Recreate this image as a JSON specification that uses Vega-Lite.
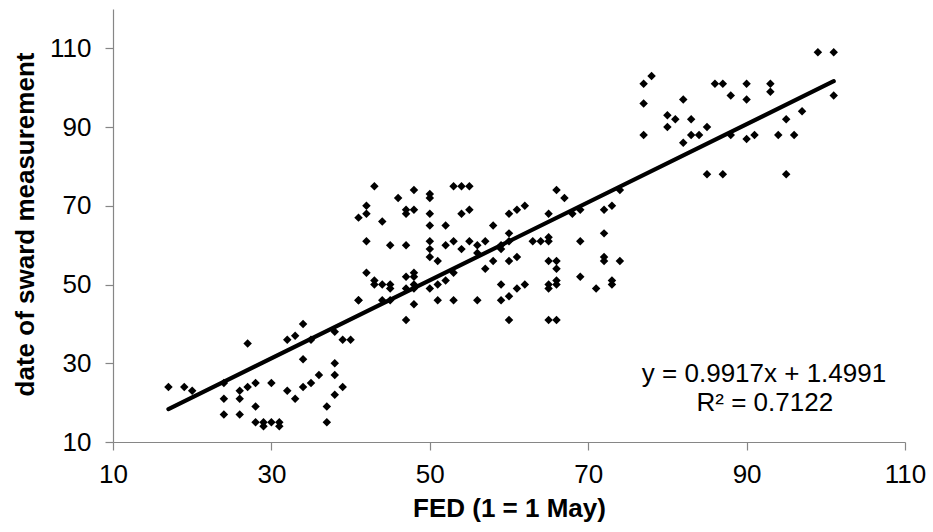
{
  "$schema": "https://vega.github.io/schema/vega-lite/v6.json",
  "width": 792,
  "height": 433,
  "autosize": {"type": "none"},
  "padding": {"left": 113, "top": 9, "right": 28, "bottom": 90},
  "background": "white",
  "config": {"view": {"stroke": null}, "font": "Liberation Sans"},
  "datasets": {
    "points": [
      {"FED": 17, "sward": 24}, {"FED": 19, "sward": 24}, {"FED": 20, "sward": 23},
      {"FED": 24, "sward": 25}, {"FED": 24, "sward": 21}, {"FED": 24, "sward": 17},
      {"FED": 26, "sward": 23}, {"FED": 26, "sward": 21}, {"FED": 26, "sward": 17},
      {"FED": 27, "sward": 35}, {"FED": 27, "sward": 24}, {"FED": 28, "sward": 25},
      {"FED": 28, "sward": 19}, {"FED": 28, "sward": 15}, {"FED": 29, "sward": 14},
      {"FED": 29, "sward": 15}, {"FED": 30, "sward": 25}, {"FED": 30, "sward": 15},
      {"FED": 31, "sward": 15}, {"FED": 31, "sward": 14}, {"FED": 32, "sward": 23},
      {"FED": 32, "sward": 36}, {"FED": 33, "sward": 37}, {"FED": 33, "sward": 21},
      {"FED": 34, "sward": 40}, {"FED": 34, "sward": 31}, {"FED": 34, "sward": 24},
      {"FED": 35, "sward": 36}, {"FED": 35, "sward": 25}, {"FED": 36, "sward": 27},
      {"FED": 37, "sward": 19}, {"FED": 37, "sward": 15}, {"FED": 38, "sward": 38},
      {"FED": 38, "sward": 30}, {"FED": 38, "sward": 27}, {"FED": 38, "sward": 22},
      {"FED": 39, "sward": 36}, {"FED": 39, "sward": 24}, {"FED": 40, "sward": 36},
      {"FED": 41, "sward": 46},
      {"FED": 42, "sward": 70}, {"FED": 42, "sward": 68}, {"FED": 41, "sward": 67},
      {"FED": 43, "sward": 75}, {"FED": 44, "sward": 66}, {"FED": 46, "sward": 72},
      {"FED": 48, "sward": 74}, {"FED": 47, "sward": 69}, {"FED": 47, "sward": 68},
      {"FED": 48, "sward": 69}, {"FED": 50, "sward": 73}, {"FED": 50, "sward": 72},
      {"FED": 50, "sward": 68}, {"FED": 50, "sward": 65}, {"FED": 52, "sward": 65},
      {"FED": 53, "sward": 75}, {"FED": 54, "sward": 75}, {"FED": 55, "sward": 75},
      {"FED": 54, "sward": 68}, {"FED": 55, "sward": 69}, {"FED": 42, "sward": 61},
      {"FED": 45, "sward": 60}, {"FED": 47, "sward": 60}, {"FED": 50, "sward": 61},
      {"FED": 50, "sward": 59}, {"FED": 50, "sward": 57}, {"FED": 51, "sward": 56},
      {"FED": 52, "sward": 60}, {"FED": 53, "sward": 61}, {"FED": 54, "sward": 59},
      {"FED": 55, "sward": 61}, {"FED": 56, "sward": 60}, {"FED": 56, "sward": 58},
      {"FED": 57, "sward": 61}, {"FED": 58, "sward": 65}, {"FED": 58, "sward": 56},
      {"FED": 57, "sward": 54}, {"FED": 59, "sward": 60}, {"FED": 59, "sward": 59},
      {"FED": 60, "sward": 63}, {"FED": 60, "sward": 61}, {"FED": 60, "sward": 56},
      {"FED": 61, "sward": 57}, {"FED": 60, "sward": 68}, {"FED": 61, "sward": 69},
      {"FED": 62, "sward": 70}, {"FED": 63, "sward": 61}, {"FED": 64, "sward": 61},
      {"FED": 42, "sward": 53}, {"FED": 43, "sward": 51}, {"FED": 43, "sward": 50},
      {"FED": 44, "sward": 50}, {"FED": 45, "sward": 50}, {"FED": 45, "sward": 49},
      {"FED": 47, "sward": 52}, {"FED": 48, "sward": 53}, {"FED": 48, "sward": 52},
      {"FED": 48, "sward": 50}, {"FED": 47, "sward": 49}, {"FED": 48, "sward": 49},
      {"FED": 50, "sward": 49}, {"FED": 51, "sward": 50}, {"FED": 52, "sward": 51},
      {"FED": 53, "sward": 53}, {"FED": 41, "sward": 46}, {"FED": 44, "sward": 46},
      {"FED": 45, "sward": 46}, {"FED": 48, "sward": 45}, {"FED": 51, "sward": 46},
      {"FED": 53, "sward": 46}, {"FED": 56, "sward": 46}, {"FED": 59, "sward": 50},
      {"FED": 59, "sward": 46}, {"FED": 60, "sward": 47}, {"FED": 61, "sward": 49},
      {"FED": 62, "sward": 50}, {"FED": 47, "sward": 41}, {"FED": 60, "sward": 41},
      {"FED": 66, "sward": 74}, {"FED": 67, "sward": 72}, {"FED": 65, "sward": 68},
      {"FED": 68, "sward": 68}, {"FED": 69, "sward": 69}, {"FED": 72, "sward": 69},
      {"FED": 73, "sward": 70}, {"FED": 74, "sward": 74}, {"FED": 65, "sward": 61},
      {"FED": 65, "sward": 62}, {"FED": 69, "sward": 61}, {"FED": 72, "sward": 63},
      {"FED": 65, "sward": 56}, {"FED": 66, "sward": 56}, {"FED": 66, "sward": 54},
      {"FED": 65, "sward": 50}, {"FED": 65, "sward": 49}, {"FED": 66, "sward": 51},
      {"FED": 66, "sward": 50}, {"FED": 69, "sward": 52}, {"FED": 71, "sward": 49},
      {"FED": 72, "sward": 57}, {"FED": 72, "sward": 56}, {"FED": 74, "sward": 56},
      {"FED": 73, "sward": 51}, {"FED": 73, "sward": 50}, {"FED": 65, "sward": 41},
      {"FED": 66, "sward": 41},
      {"FED": 77, "sward": 101}, {"FED": 78, "sward": 103}, {"FED": 77, "sward": 96},
      {"FED": 77, "sward": 88}, {"FED": 82, "sward": 97}, {"FED": 80, "sward": 93},
      {"FED": 81, "sward": 92}, {"FED": 80, "sward": 90}, {"FED": 83, "sward": 92},
      {"FED": 83, "sward": 88}, {"FED": 84, "sward": 88}, {"FED": 82, "sward": 86},
      {"FED": 85, "sward": 90}, {"FED": 86, "sward": 101}, {"FED": 87, "sward": 101},
      {"FED": 90, "sward": 101}, {"FED": 88, "sward": 98}, {"FED": 90, "sward": 97},
      {"FED": 88, "sward": 88}, {"FED": 90, "sward": 87}, {"FED": 85, "sward": 78},
      {"FED": 87, "sward": 78}, {"FED": 93, "sward": 101}, {"FED": 93, "sward": 99},
      {"FED": 91, "sward": 88}, {"FED": 94, "sward": 88}, {"FED": 96, "sward": 88},
      {"FED": 95, "sward": 92}, {"FED": 97, "sward": 94}, {"FED": 101, "sward": 98},
      {"FED": 95, "sward": 78}, {"FED": 99, "sward": 109}, {"FED": 101, "sward": 109}
    ],
    "trend": [
      {"FED": 17, "sward": 18.36},
      {"FED": 101, "sward": 101.66}
    ],
    "equation": [
      {"line": 1, "label": "y = 0.9917x + 1.4991"},
      {"line": 2, "label": "R² = 0.7122"}
    ]
  },
  "layer": [
    {
      "data": {"name": "points"},
      "mark": {"type": "point", "shape": "diamond", "filled": true, "color": "#000000", "opacity": 1, "size": 72},
      "encoding": {
        "x": {
          "field": "FED",
          "type": "quantitative",
          "scale": {"domain": [10, 110], "nice": false, "zero": false},
          "axis": {
            "values": [10, 30, 50, 70, 90, 110],
            "grid": false,
            "domainColor": "#868686",
            "domainWidth": 1.2,
            "tickColor": "#868686",
            "tickWidth": 1.2,
            "tickSize": 8,
            "labelFontSize": 26,
            "labelColor": "#000000",
            "labelPadding": 11,
            "labelFlush": false,
            "labelOverlap": false,
            "title": "FED (1 = 1 May)",
            "titleFontSize": 26,
            "titleFontWeight": "bold",
            "titleColor": "#000000",
            "titleBaseline": "middle",
            "titleAlign": "center",
            "titleX": 396,
            "titleY": 66
          }
        },
        "y": {
          "field": "sward",
          "type": "quantitative",
          "scale": {"domain": [10, 120], "nice": false, "zero": false},
          "axis": {
            "values": [10, 30, 50, 70, 90, 110],
            "grid": false,
            "domainColor": "#868686",
            "domainWidth": 1.2,
            "tickColor": "#868686",
            "tickWidth": 1.2,
            "tickSize": 8,
            "labelFontSize": 26,
            "labelColor": "#000000",
            "labelPadding": 14,
            "labelFlush": false,
            "labelOverlap": false,
            "title": "date of sward measurement",
            "titleFontSize": 26,
            "titleFontWeight": "bold",
            "titleColor": "#000000",
            "titleBaseline": "middle",
            "titleAlign": "center",
            "titleAngle": -90,
            "titleX": -88,
            "titleY": 215
          }
        }
      }
    },
    {
      "data": {"name": "trend"},
      "mark": {"type": "line", "color": "#000000", "strokeWidth": 4.2, "strokeCap": "round"},
      "encoding": {
        "x": {"field": "FED", "type": "quantitative"},
        "y": {"field": "sward", "type": "quantitative"}
      }
    },
    {
      "data": {"name": "equation"},
      "transform": [{"filter": "datum.line == 1"}],
      "mark": {"type": "text", "fontSize": 26, "color": "#000000", "align": "center", "baseline": "alphabetic"},
      "encoding": {
        "x": {"datum": 92.2, "type": "quantitative"},
        "y": {"datum": 25.2, "type": "quantitative"},
        "text": {"field": "label", "type": "nominal"}
      }
    },
    {
      "data": {"name": "equation"},
      "transform": [{"filter": "datum.line == 2"}],
      "mark": {"type": "text", "fontSize": 26, "color": "#000000", "align": "center", "baseline": "alphabetic"},
      "encoding": {
        "x": {"datum": 92.3, "type": "quantitative"},
        "y": {"datum": 17.75, "type": "quantitative"},
        "text": {"field": "label", "type": "nominal"}
      }
    }
  ]
}
